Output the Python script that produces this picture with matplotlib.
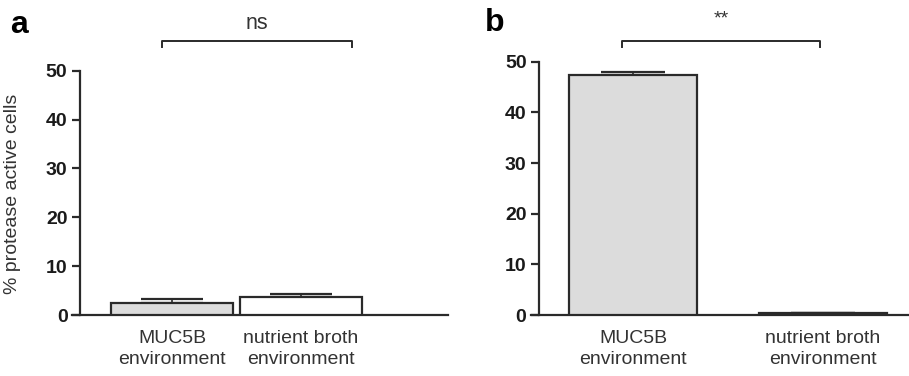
import matplotlib
matplotlib.use('Agg')
import matplotlib.pyplot as plt
from matplotlib.transforms import blended_transform_factory

plt.rcParams['font.family'] = ['Liberation Sans', 'DejaVu Sans']

# Data
categories = ['MUC5B\nenvironment', 'nutrient broth\nenvironment']
means_a = [2.5, 3.6]
sem_a = [0.7, 0.8]
means_b = [47.4, 0.3]
sem_b = [0.6, 0.1]
yticks = [0, 10, 20, 30, 40, 50]

bar_colors = ['#dcdcdc', 'white']
edge = '#2a2a2a'
text_col = '#333333'

fig = plt.figure(figsize=(9.09, 3.76), dpi=100)
W, H = 909, 376


def px_axes(left, right, top, bottom):
    return fig.add_axes([left / W, 1 - bottom / H, (right - left) / W, (bottom - top) / H])


def style_axes(ax, xlim):
    ax.set_xlim(*xlim)
    ax.set_ylim(0, 50)
    ax.set_yticks(yticks)
    for s in ['top', 'right', 'bottom']:
        ax.spines[s].set_visible(False)
    ax.spines['left'].set_linewidth(1.6)
    ax.spines['left'].set_color(edge)
    ax.tick_params(axis='y', direction='out', length=6, width=1.6, color=edge,
                   labelsize=14, pad=3)
    for lab in ax.get_yticklabels():
        lab.set_fontweight('bold')
        lab.set_color('#1a1a1a')
    ax.tick_params(axis='x', length=0, labelsize=14, pad=11, labelcolor=text_col)
    # x axis line extends a little left of the y axis
    trans = blended_transform_factory(ax.transAxes, ax.transData)
    ax.plot([-0.022, 1], [0, 0], transform=trans, color=edge, lw=1.6,
            clip_on=False, zorder=1)


def draw_bars(ax, means, errs, width, capsize):
    x = list(range(len(means)))
    ax.bar(x, means, width=width, color=bar_colors, edgecolor=edge, linewidth=1.6, zorder=3)
    ax.errorbar(x, means, yerr=[[0] * len(errs), errs], fmt='none', ecolor=edge,
                elinewidth=1.2, capsize=capsize, capthick=1.6, zorder=2)
    ax.set_xticks(x)
    ax.set_xticklabels(categories, linespacing=1.3)


def bracket(ax, x0, x1, y_top, y_bot, label, label_y, fs):
    ax.plot([x0, x0, x1, x1], [y_bot, y_top, y_top, y_bot], color=edge, lw=1.4,
            clip_on=False)
    ax.text((x0 + x1) / 2, label_y, label, ha='center', va='center', fontsize=fs,
            color=text_col)


# Panel a
ax_a = px_axes(80, 448, 70.7, 315)
style_axes(ax_a, (-0.713, 2.14))
draw_bars(ax_a, means_a, sem_a, 0.946, 22)
ax_a.set_ylabel('% protease active cells', fontsize=14, color=text_col)
ax_a.yaxis.set_label_coords(-0.16, 0.495)
bracket(ax_a, -0.078, 1.395, 56.1, 54.8, 'ns', 59.6, 15.5)
fig.text(10 / W, 1 - 25 / H, 'a', fontsize=23, fontweight='bold', ha='left', va='center')

# Panel b
ax_b = px_axes(539, 909, 61.7, 315)
style_axes(ax_b, (-0.496, 1.456))
draw_bars(ax_b, means_b, sem_b, 0.675, 23)
bracket(ax_b, -0.058, 0.987, 54.1, 52.9, '**', 58.4, 14)
fig.text(485 / W, 1 - 23 / H, 'b', fontsize=23, fontweight='bold', ha='left', va='center')

fig.savefig('out.png', dpi=100)
